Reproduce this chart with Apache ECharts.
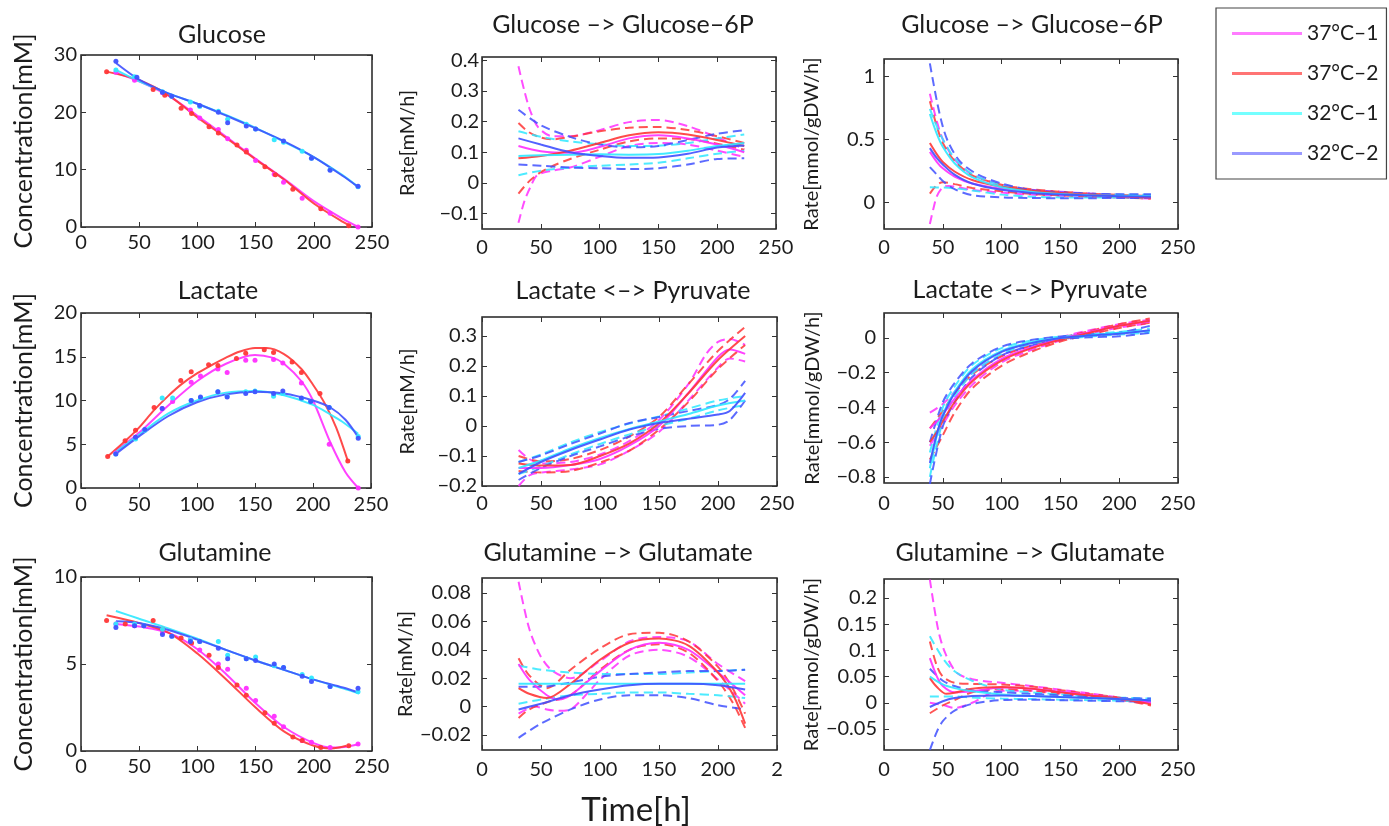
<!DOCTYPE html>
<html>
<head>
<meta charset="utf-8">
<script src="https://cdn.jsdelivr.net/npm/echarts@6/dist/echarts.min.js"></script>
<style>
  html, body { margin: 0; padding: 0; background: #fff; }
  #chart { width: 1389px; height: 826px; }
</style>
</head>
<body>
<div id="chart"></div>
<script>
// Culture conditions and their colours
const CONDITIONS = ['37°C–1', '37°C–2', '32°C–1', '32°C–2'];
const LINE_COLORS = ['#ff2eff', '#ff3636', '#2ee8ff', '#3f50ff'];
const LEGEND_COLORS = ['#ff7cff', '#ff7474', '#74ffff', '#9a9aff'];

// Shared time axis
const X_TICKS = [0, 50, 100, 150, 200, 250];
const X_TEXT = ['0', '50', '100', '150', '200', '250'];
const X_TEXT_CUT = ['0', '50', '100', '150', '200', '2'];

// Y tick values per panel
const glcTicks = [0, 10, 20, 30];
const glcRateTicks = [-0.1, 0, 0.1, 0.2, 0.3, 0.4];
const glcFluxTicks = [0, 0.5, 1];
const lacTicks = [0, 5, 10, 15, 20];
const lacRateTicks = [-0.2, -0.1, 0, 0.1, 0.2, 0.3];
const lacFluxTicks = [-0.8, -0.6, -0.4, -0.2, 0];
const glnTicks = [0, 5, 10];
const glnRateTicks = [-0.02, 0, 0.02, 0.04, 0.06, 0.08];
const glnFluxTicks = [-0.05, 0, 0.05, 0.1, 0.15, 0.2];

// ---------- Glucose concentration [mM] ----------
const glcFit37_1 = [[30,26.9],[50,25.4],[75,22.9],[100,19.4],[125,15.7],[150,11.9],[175,8.3],[200,4.5],[225,1.4],[238,0.0]];
const glcFit37_2 = [[22,27.1],[50,25.6],[75,23.0],[100,19.1],[125,15.5],[150,11.8],[175,8.2],[200,4.1],[225,0.9],[232,0.2]];
const glcFit32_1 = [[30,27.4],[50,25.4],[75,23.3],[100,21.5],[125,19.5],[150,17.3],[175,14.8],[200,12.2],[225,9.0],[238,7.0]];
const glcFit32_2 = [[30,28.6],[50,25.7],[75,23.3],[100,21.5],[125,19.4],[150,17.2],[175,14.9],[200,12.2],[225,8.9],[238,7.0]];
const glcObs37_1 = [[30,27.0],[46,25.6],[70,23.4],[94,20.4],[102,19.0],[118,17.0],[126,15.4],[142,13.4],[150,11.6],[166,9.2],[174,7.8],[190,5.0],[214,2.4],[238,0.0]];
const glcObs37_2 = [[22,27.1],[62,24.0],[72,23.0],[86,20.7],[95,19.8],[110,17.5],[118,16.4],[134,14.3],[142,13.1],[158,10.5],[167,9.1],[182,6.6],[206,3.2],[230,0.2]];
const glcObs32_1 = [[30,27.4],[46,26.2],[70,23.6],[78,22.8],[94,21.8],[102,21.0],[118,20.2],[126,18.8],[142,17.9],[150,17.1],[166,15.2],[174,14.8],[190,13.2],[198,12.0],[214,10.0],[238,7.0]];
const glcObs32_2 = [[30,28.9],[48,26.1],[70,23.5],[78,22.8],[102,21.2],[118,20.0],[126,18.2],[142,17.6],[150,17.1],[174,15.0],[198,12.0],[214,9.9],[238,7.1]];

// ---------- Glucose -> Glucose-6P [mM/h] ----------
const glcRateMid37_1 = [[31,0.12],[50,0.103],[75,0.098],[100,0.117],[125,0.145],[150,0.155],[175,0.145],[200,0.125],[223,0.10]];
const glcRateHi37_1 = [[31,0.38],[36,0.30],[41,0.235],[48,0.18],[60,0.152],[75,0.152],[100,0.172],[125,0.198],[150,0.205],[175,0.185],[200,0.148],[223,0.11]];
const glcRateLo37_1 = [[31,-0.13],[36,-0.06],[41,-0.015],[47,0.025],[60,0.04],[75,0.05],[100,0.085],[125,0.12],[150,0.13],[175,0.125],[200,0.105],[223,0.085]];
const glcRateMid37_2 = [[31,0.08],[50,0.088],[75,0.105],[100,0.13],[125,0.155],[150,0.165],[175,0.158],[200,0.14],[223,0.12]];
const glcRateHi37_2 = [[31,0.195],[40,0.165],[50,0.148],[60,0.142],[75,0.15],[100,0.168],[125,0.18],[150,0.182],[175,0.172],[200,0.152],[223,0.13]];
const glcRateLo37_2 = [[31,-0.035],[40,0.005],[50,0.035],[60,0.055],[75,0.078],[100,0.108],[125,0.135],[150,0.145],[175,0.143],[200,0.128],[223,0.108]];
const glcRateMid32_1 = [[31,0.088],[50,0.09],[75,0.092],[100,0.093],[125,0.092],[150,0.094],[175,0.105],[200,0.12],[223,0.13]];
const glcRateHi32_1 = [[31,0.168],[50,0.15],[75,0.135],[100,0.126],[125,0.12],[150,0.121],[175,0.13],[200,0.145],[223,0.158]];
const glcRateLo32_1 = [[31,0.025],[50,0.04],[75,0.05],[100,0.056],[125,0.06],[150,0.066],[175,0.08],[200,0.095],[223,0.105]];
const glcRateMid32_2 = [[31,0.145],[50,0.125],[75,0.1],[100,0.088],[125,0.082],[150,0.083],[175,0.095],[200,0.115],[223,0.122]];
const glcRateHi32_2 = [[31,0.238],[50,0.188],[75,0.15],[100,0.125],[125,0.116],[150,0.12],[175,0.14],[200,0.16],[223,0.172]];
const glcRateLo32_2 = [[31,0.06],[50,0.056],[75,0.05],[100,0.048],[125,0.045],[150,0.048],[175,0.06],[200,0.078],[223,0.08]];

// ---------- Glucose -> Glucose-6P [mmol/gDW/h] ----------
const glcFluxMid37_1 = [[39,0.40],[45,0.32],[50,0.27],[60,0.205],[75,0.15],[100,0.108],[125,0.085],[150,0.07],[175,0.06],[200,0.05],[227,0.04]];
const glcFluxHi37_1 = [[39,0.86],[45,0.64],[50,0.5],[60,0.34],[75,0.22],[100,0.14],[125,0.1],[150,0.085],[175,0.07],[200,0.06],[227,0.05]];
const glcFluxLo37_1 = [[39,-0.17],[42,-0.05],[45,0.05],[50,0.12],[55,0.13],[60,0.125],[75,0.1],[100,0.078],[125,0.062],[150,0.052],[175,0.045],[200,0.04],[227,0.03]];
const glcFluxMid37_2 = [[39,0.47],[45,0.38],[50,0.32],[60,0.245],[75,0.178],[100,0.125],[125,0.095],[150,0.075],[175,0.062],[200,0.05],[227,0.04]];
const glcFluxHi37_2 = [[39,0.8],[45,0.6],[50,0.47],[60,0.33],[75,0.215],[100,0.14],[125,0.105],[150,0.085],[175,0.07],[200,0.06],[227,0.05]];
const glcFluxLo37_2 = [[39,0.07],[45,0.14],[50,0.16],[60,0.145],[75,0.115],[100,0.088],[125,0.068],[150,0.056],[175,0.047],[200,0.04],[227,0.03]];
const glcFluxMid32_1 = [[39,0.70],[45,0.54],[50,0.44],[60,0.31],[75,0.2],[100,0.12],[125,0.085],[150,0.066],[175,0.058],[200,0.054],[227,0.05]];
const glcFluxHi32_1 = [[39,0.74],[45,0.6],[50,0.5],[60,0.35],[75,0.225],[100,0.135],[125,0.095],[150,0.075],[175,0.065],[200,0.062],[227,0.06]];
const glcFluxLo32_1 = [[39,0.12],[50,0.118],[60,0.112],[75,0.095],[100,0.062],[125,0.046],[150,0.04],[175,0.04],[200,0.04],[227,0.04]];
const glcFluxMid32_2 = [[39,0.43],[45,0.35],[50,0.3],[60,0.22],[75,0.15],[100,0.1],[125,0.075],[150,0.062],[175,0.055],[200,0.05],[227,0.045]];
const glcFluxHi32_2 = [[39,1.1],[45,0.8],[50,0.6],[55,0.47],[65,0.32],[80,0.22],[100,0.15],[125,0.1],[150,0.08],[175,0.07],[200,0.065],[227,0.065]];
const glcFluxLo32_2 = [[39,0.28],[45,0.22],[50,0.17],[60,0.105],[75,0.058],[100,0.04],[125,0.035],[150,0.034],[175,0.034],[200,0.035],[227,0.035]];

// ---------- Lactate concentration [mM] ----------
const lacFit37_1 = [[30,4.2],[50,6.3],[75,9.4],[100,12.2],[125,14.2],[150,15.2],[165,14.9],[175,14.2],[190,12.2],[200,10.0],[215,5.2],[228,1.8],[239,0.0]];
const lacFit37_2 = [[23,3.6],[40,5.6],[50,6.9],[63,8.9],[75,10.5],[87,11.9],[100,13.1],[112,14.0],[125,14.9],[137,15.6],[150,16.0],[160,16.0],[175,15.3],[190,13.6],[200,11.8],[210,9.7],[220,6.9],[230,3.1]];
const lacFit32_1 = [[30,4.1],[50,6.1],[75,8.5],[100,10.0],[125,10.9],[150,11.1],[175,10.6],[200,9.5],[215,8.4],[225,7.6],[239,6.2]];
const lacFit32_2 = [[30,3.9],[50,5.9],[75,8.2],[100,9.8],[125,10.7],[150,11.0],[175,10.8],[200,10.0],[215,9.2],[228,7.8],[239,5.8]];
const lacObs37_1 = [[30,4.0],[47,5.8],[70,9.1],[79,9.9],[95,12.1],[103,12.8],[118,13.6],[126,13.2],[142,14.6],[150,14.6],[166,14.7],[174,14.3],[190,12.0],[214,5.0],[239,0.0]];
const lacObs37_2 = [[23,3.6],[38,5.4],[47,6.6],[63,9.2],[86,12.3],[95,13.3],[110,14.1],[118,14.0],[134,14.8],[142,15.4],[158,15.8],[166,15.5],[182,14.4],[190,13.2],[206,10.8],[230,3.1]];
const lacObs32_1 = [[30,3.9],[47,5.6],[55,6.6],[70,10.3],[79,10.3],[95,10.0],[103,10.3],[118,11.0],[126,10.5],[142,11.0],[150,11.1],[166,10.5],[174,10.8],[190,10.2],[198,9.9],[214,9.2],[239,5.9]];
const lacObs32_2 = [[30,3.9],[47,5.8],[55,6.7],[70,9.1],[95,10.0],[103,10.4],[118,11.0],[126,10.4],[142,10.8],[150,11.0],[166,10.8],[174,11.1],[190,10.3],[198,9.9],[214,9.2],[239,5.7]];

// ---------- Lactate <-> Pyruvate [mM/h] ----------
const lacRateMid37_1 = [[31,-0.14],[50,-0.14],[75,-0.13],[100,-0.11],[125,-0.065],[150,0.0],[175,0.11],[200,0.23],[210,0.255],[223,0.24]];
const lacRateHi37_1 = [[31,-0.08],[40,-0.11],[50,-0.125],[75,-0.12],[100,-0.095],[125,-0.05],[150,0.02],[175,0.14],[190,0.24],[200,0.28],[210,0.29],[223,0.27]];
const lacRateLo37_1 = [[31,-0.2],[40,-0.165],[50,-0.155],[75,-0.145],[100,-0.128],[125,-0.082],[150,-0.02],[175,0.085],[200,0.195],[210,0.225],[223,0.215]];
const lacRateMid37_2 = [[31,-0.125],[50,-0.132],[75,-0.13],[100,-0.1],[125,-0.058],[150,0.009],[175,0.109],[200,0.22],[223,0.30]];
const lacRateHi37_2 = [[31,-0.1],[50,-0.118],[75,-0.11],[100,-0.08],[125,-0.035],[150,0.03],[175,0.14],[200,0.25],[223,0.33]];
const lacRateLo37_2 = [[31,-0.15],[50,-0.155],[75,-0.15],[100,-0.122],[125,-0.082],[150,-0.012],[175,0.08],[200,0.19],[223,0.27]];
const lacRateMid32_1 = [[31,-0.14],[50,-0.115],[75,-0.075],[100,-0.04],[125,-0.01],[150,0.015],[175,0.04],[200,0.068],[223,0.085]];
const lacRateHi32_1 = [[31,-0.12],[50,-0.095],[75,-0.055],[100,-0.02],[125,0.008],[150,0.032],[175,0.058],[200,0.085],[223,0.1]];
const lacRateLo32_1 = [[31,-0.16],[50,-0.135],[75,-0.095],[100,-0.06],[125,-0.028],[150,0.0],[175,0.024],[200,0.052],[223,0.07]];
const lacRateMid32_2 = [[31,-0.16],[50,-0.12],[75,-0.08],[100,-0.045],[125,-0.012],[150,0.01],[175,0.024],[200,0.038],[210,0.05],[223,0.11]];
const lacRateHi32_2 = [[31,-0.12],[50,-0.098],[75,-0.06],[100,-0.025],[125,0.01],[150,0.03],[175,0.05],[200,0.07],[210,0.09],[223,0.15]];
const lacRateLo32_2 = [[31,-0.18],[50,-0.14],[75,-0.1],[100,-0.068],[125,-0.035],[150,-0.01],[175,0.0],[200,0.004],[210,0.02],[223,0.085]];

// ---------- Lactate <-> Pyruvate [mmol/gDW/h] ----------
const lacFluxMid37_1 = [[39,-0.52],[45,-0.48],[50,-0.44],[60,-0.35],[75,-0.24],[100,-0.12],[125,-0.055],[150,-0.005],[175,0.035],[200,0.07],[226,0.095]];
const lacFluxHi37_1 = [[39,-0.43],[50,-0.38],[60,-0.31],[75,-0.2],[100,-0.1],[125,-0.04],[150,0.005],[175,0.045],[200,0.08],[226,0.105]];
const lacFluxLo37_1 = [[39,-0.62],[50,-0.5],[60,-0.39],[75,-0.27],[100,-0.14],[125,-0.07],[150,-0.015],[175,0.025],[200,0.06],[226,0.085]];
const lacFluxMid37_2 = [[39,-0.6],[45,-0.54],[50,-0.48],[60,-0.37],[75,-0.25],[100,-0.13],[125,-0.06],[150,-0.01],[175,0.03],[200,0.07],[226,0.1]];
const lacFluxHi37_2 = [[39,-0.52],[50,-0.42],[60,-0.32],[75,-0.21],[100,-0.105],[125,-0.045],[150,0.0],[175,0.04],[200,0.08],[226,0.112]];
const lacFluxLo37_2 = [[39,-0.7],[50,-0.56],[60,-0.43],[75,-0.29],[100,-0.16],[125,-0.08],[150,-0.02],[175,0.02],[200,0.058],[226,0.088]];
const lacFluxMid32_1 = [[39,-0.75],[45,-0.56],[50,-0.44],[60,-0.31],[75,-0.18],[100,-0.075],[125,-0.025],[150,0.0],[175,0.015],[200,0.03],[226,0.04]];
const lacFluxHi32_1 = [[39,-0.66],[50,-0.4],[60,-0.28],[75,-0.155],[100,-0.058],[125,-0.015],[150,0.008],[175,0.022],[200,0.035],[226,0.055]];
const lacFluxLo32_1 = [[39,-0.8],[50,-0.48],[60,-0.34],[75,-0.205],[100,-0.092],[125,-0.035],[150,-0.006],[175,0.008],[200,0.02],[226,0.03]];
const lacFluxMid32_2 = [[39,-0.72],[45,-0.55],[50,-0.45],[60,-0.32],[75,-0.19],[100,-0.08],[125,-0.03],[150,0.0],[175,0.015],[200,0.025],[226,0.045]];
const lacFluxHi32_2 = [[39,-0.6],[50,-0.37],[60,-0.26],[75,-0.145],[100,-0.05],[125,-0.012],[150,0.008],[175,0.02],[200,0.03],[226,0.07]];
const lacFluxLo32_2 = [[39,-0.84],[50,-0.51],[60,-0.37],[75,-0.225],[100,-0.1],[125,-0.045],[150,-0.008],[175,0.004],[200,0.01],[226,0.03]];

// ---------- Glutamine concentration [mM] ----------
const glnFit37_1 = [[30,7.3],[50,7.15],[75,6.8],[100,5.85],[125,4.4],[150,2.75],[175,1.35],[200,0.45],[215,0.2],[228,0.25],[239,0.4]];
const glnFit37_2 = [[22,7.8],[50,7.35],[75,6.8],[100,5.6],[125,4.1],[150,2.5],[175,1.1],[200,0.3],[215,0.15],[228,0.3]];
const glnFit32_1 = [[30,8.05],[50,7.6],[75,7.05],[100,6.45],[125,5.8],[150,5.2],[175,4.65],[200,4.1],[225,3.6],[239,3.3]];
const glnFit32_2 = [[30,7.45],[50,7.35],[75,6.95],[100,6.4],[125,5.8],[150,5.2],[175,4.65],[200,4.1],[225,3.65],[239,3.35]];
const glnObs37_1 = [[30,7.3],[46,7.2],[70,6.8],[94,6.4],[102,5.8],[118,5.0],[126,4.7],[142,3.6],[150,2.9],[166,2.0],[174,1.4],[190,0.6],[198,0.5],[214,0.2],[238,0.4]];
const glnObs37_2 = [[22,7.5],[38,7.3],[62,7.5],[70,7.0],[86,6.5],[95,6.2],[110,5.5],[118,4.8],[134,3.8],[142,3.2],[158,2.2],[166,1.6],[182,0.8],[190,0.6],[206,0.2],[230,0.3]];
const glnObs32_1 = [[30,7.3],[46,7.3],[54,7.2],[70,7.0],[78,6.6],[94,6.4],[102,6.3],[118,6.3],[126,5.5],[142,5.3],[150,5.4],[166,4.9],[174,4.8],[190,4.4],[198,4.2],[214,3.7],[238,3.4]];
const glnObs32_2 = [[30,7.1],[46,7.2],[54,7.2],[70,6.7],[78,6.6],[94,6.3],[102,6.3],[118,5.9],[126,5.3],[142,5.3],[150,5.2],[166,5.0],[174,4.8],[190,4.3],[198,4.0],[214,3.7],[238,3.6]];

// ---------- Glutamine -> Glutamate [mM/h] ----------
const glnRateMid37_1 = [[31,0.03],[40,0.019],[55,0.008],[65,0.005],[75,0.008],[100,0.025],[125,0.04],[150,0.045],[175,0.04],[200,0.024],[223,0.008]];
const glnRateHi37_1 = [[31,0.088],[40,0.055],[50,0.035],[60,0.025],[75,0.02],[100,0.032],[125,0.046],[150,0.049],[175,0.046],[200,0.03],[223,0.018]];
const glnRateLo37_1 = [[31,-0.005],[45,0.0],[55,-0.002],[65,-0.003],[75,-0.002],[90,0.01],[100,0.019],[125,0.036],[150,0.04],[175,0.035],[200,0.019],[223,0.002]];
const glnRateMid37_2 = [[31,0.013],[40,0.009],[55,0.006],[75,0.016],[100,0.033],[125,0.045],[150,0.048],[175,0.043],[200,0.024],[213,0.008],[223,-0.012]];
const glnRateHi37_2 = [[31,0.034],[40,0.022],[55,0.013],[75,0.026],[100,0.041],[125,0.051],[150,0.052],[175,0.046],[200,0.028],[213,0.012],[223,-0.005]];
const glnRateLo37_2 = [[31,-0.008],[40,-0.002],[55,0.003],[75,0.008],[100,0.026],[125,0.04],[150,0.044],[175,0.038],[200,0.018],[213,0.002],[223,-0.015]];
const glnRateMid32_1 = [[31,0.016],[75,0.016],[125,0.016],[175,0.016],[223,0.016]];
const glnRateHi32_1 = [[31,0.029],[50,0.026],[75,0.024],[100,0.023],[125,0.023],[150,0.023],[175,0.024],[200,0.025],[223,0.026]];
const glnRateLo32_1 = [[31,0.002],[50,0.005],[75,0.008],[100,0.009],[125,0.01],[150,0.01],[175,0.009],[200,0.008],[223,0.006]];
const glnRateMid32_2 = [[31,-0.002],[50,0.002],[75,0.008],[100,0.012],[125,0.015],[150,0.016],[175,0.016],[200,0.015],[223,0.012]];
const glnRateHi32_2 = [[31,0.014],[50,0.014],[75,0.017],[100,0.021],[125,0.023],[150,0.024],[175,0.025],[200,0.025],[223,0.026]];
const glnRateLo32_2 = [[31,-0.022],[50,-0.012],[75,-0.002],[100,0.005],[125,0.008],[150,0.008],[175,0.006],[200,0.001],[223,-0.002]];

// ---------- Glutamine -> Glutamate [mmol/gDW/h] ----------
const glnFluxMid37_1 = [[39,0.085],[45,0.05],[50,0.032],[60,0.02],[75,0.022],[100,0.029],[125,0.027],[150,0.021],[175,0.015],[200,0.008],[227,0.0]];
const glnFluxHi37_1 = [[39,0.235],[46,0.14],[52,0.095],[62,0.057],[75,0.045],[100,0.038],[125,0.032],[150,0.025],[175,0.018],[200,0.01],[227,0.0]];
const glnFluxLo37_1 = [[39,0.0],[50,-0.004],[60,-0.01],[75,0.0],[90,0.018],[100,0.023],[125,0.023],[150,0.018],[175,0.012],[200,0.006],[227,-0.003]];
const glnFluxMid37_2 = [[39,0.047],[45,0.03],[53,0.017],[60,0.019],[75,0.027],[100,0.03],[125,0.027],[150,0.02],[175,0.014],[200,0.008],[227,-0.003]];
const glnFluxHi37_2 = [[39,0.117],[45,0.07],[50,0.05],[60,0.038],[75,0.036],[100,0.035],[125,0.031],[150,0.024],[175,0.017],[200,0.01],[227,0.0]];
const glnFluxLo37_2 = [[39,-0.02],[50,-0.005],[60,0.005],[75,0.02],[100,0.026],[125,0.023],[150,0.017],[175,0.011],[200,0.006],[227,-0.005]];
const glnFluxMid32_1 = [[39,0.05],[50,0.035],[60,0.028],[75,0.022],[100,0.016],[125,0.013],[150,0.011],[175,0.009],[200,0.007],[227,0.005]];
const glnFluxHi32_1 = [[39,0.127],[50,0.085],[60,0.06],[75,0.042],[100,0.025],[125,0.02],[150,0.016],[175,0.013],[200,0.01],[227,0.008]];
const glnFluxLo32_1 = [[39,0.012],[50,0.012],[60,0.012],[75,0.01],[100,0.008],[125,0.007],[150,0.006],[175,0.005],[200,0.004],[227,0.002]];
const glnFluxMid32_2 = [[39,-0.008],[50,0.003],[60,0.009],[75,0.013],[100,0.014],[125,0.013],[150,0.011],[175,0.009],[200,0.007],[227,0.005]];
const glnFluxHi32_2 = [[39,0.065],[50,0.042],[60,0.032],[75,0.024],[100,0.02],[125,0.017],[150,0.014],[175,0.011],[200,0.009],[227,0.008]];
const glnFluxLo32_2 = [[39,-0.09],[45,-0.055],[50,-0.035],[60,-0.015],[75,-0.002],[100,0.005],[125,0.006],[150,0.005],[175,0.004],[200,0.003],[227,0.002]];

// ---------- Panel layout ----------
const FONT = 'Lato, "Noto Sans", sans-serif';
const INK = '#1c1c1c';

const panels = [
  { title: 'Glucose', tx: 222, ty: 35, yName: 'Concentration[mM]', nameSize: 25, nameGap: 45,
    box: [81, 55, 291, 172], yMin: 0, yMax: 30, yTicks: glcTicks, yMargin: 4, xMargin: 6, xText: X_TEXT,
    fits: [glcFit37_1, glcFit37_2, glcFit32_1, glcFit32_2], obs: [glcObs37_1, glcObs37_2, glcObs32_1, glcObs32_2] },
  { title: 'Glucose –> Glucose–6P', tx: 623, ty: 25, yName: 'Rate[mM/h]', nameSize: 20, nameGap: 64,
    box: [482, 57, 294, 172], yMin: -0.15, yMax: 0.41, yTicks: glcRateTicks, yMargin: 3, xMargin: 9, xText: X_TEXT,
    mids: [glcRateMid37_1, glcRateMid37_2, glcRateMid32_1, glcRateMid32_2],
    his: [glcRateHi37_1, glcRateHi37_2, glcRateHi32_1, glcRateHi32_2],
    los: [glcRateLo37_1, glcRateLo37_2, glcRateLo32_1, glcRateLo32_2] },
  { title: 'Glucose –> Glucose–6P', tx: 1032, ty: 25, yName: 'Rate[mmol/gDW/h]', nameSize: 20, nameGap: 62,
    box: [884, 59, 294, 170], yMin: -0.21, yMax: 1.135, yTicks: glcFluxTicks, yMargin: 9, xMargin: 9, xText: X_TEXT,
    mids: [glcFluxMid37_1, glcFluxMid37_2, glcFluxMid32_1, glcFluxMid32_2],
    his: [glcFluxHi37_1, glcFluxHi37_2, glcFluxHi32_1, glcFluxHi32_2],
    los: [glcFluxLo37_1, glcFluxLo37_2, glcFluxLo32_1, glcFluxLo32_2] },
  { title: 'Lactate', tx: 218, ty: 291, yName: 'Concentration[mM]', nameSize: 25, nameGap: 45,
    box: [81, 313, 290, 175], yMin: 0, yMax: 20, yTicks: lacTicks, yMargin: 4, xMargin: 7, xText: X_TEXT,
    fits: [lacFit37_1, lacFit37_2, lacFit32_1, lacFit32_2], obs: [lacObs37_1, lacObs37_2, lacObs32_1, lacObs32_2] },
  { title: 'Lactate <–> Pyruvate', tx: 633, ty: 291, yName: 'Rate[mM/h]', nameSize: 20, nameGap: 64,
    box: [482, 317, 295, 169], yMin: -0.2, yMax: 0.363, yTicks: lacRateTicks, yMargin: 5, xMargin: 8, xText: X_TEXT,
    mids: [lacRateMid37_1, lacRateMid37_2, lacRateMid32_1, lacRateMid32_2],
    his: [lacRateHi37_1, lacRateHi37_2, lacRateHi32_1, lacRateHi32_2],
    los: [lacRateLo37_1, lacRateLo37_2, lacRateLo32_1, lacRateLo32_2] },
  { title: 'Lactate <–> Pyruvate', tx: 1030, ty: 290, yName: 'Rate[mmol/gDW/h]', nameSize: 20, nameGap: 61,
    box: [884, 313, 294, 170], yMin: -0.835, yMax: 0.144, yTicks: lacFluxTicks, yMargin: 8, xMargin: 11, xText: X_TEXT,
    mids: [lacFluxMid37_1, lacFluxMid37_2, lacFluxMid32_1, lacFluxMid32_2],
    his: [lacFluxHi37_1, lacFluxHi37_2, lacFluxHi32_1, lacFluxHi32_2],
    los: [lacFluxLo37_1, lacFluxLo37_2, lacFluxLo32_1, lacFluxLo32_2] },
  { title: 'Glutamine', tx: 215, ty: 553, yName: 'Concentration[mM]', nameSize: 25, nameGap: 45,
    box: [81, 577, 291, 174], yMin: 0, yMax: 10, yTicks: glnTicks, yMargin: 4, xMargin: 6, xText: X_TEXT,
    fits: [glnFit37_1, glnFit37_2, glnFit32_1, glnFit32_2], obs: [glnObs37_1, glnObs37_2, glnObs32_1, glnObs32_2] },
  { title: 'Glutamine –> Glutamate', tx: 618, ty: 553, yName: 'Rate[mM/h]', nameSize: 20, nameGap: 64,
    box: [482, 578, 295, 172], yMin: -0.0306, yMax: 0.0906, yTicks: glnRateTicks, yMargin: 11, xMargin: 10, xText: X_TEXT_CUT,
    mids: [glnRateMid37_1, glnRateMid37_2, glnRateMid32_1, glnRateMid32_2],
    his: [glnRateHi37_1, glnRateHi37_2, glnRateHi32_1, glnRateHi32_2],
    los: [glnRateLo37_1, glnRateLo37_2, glnRateLo32_1, glnRateLo32_2] },
  { title: 'Glutamine –> Glutamate', tx: 1030, ty: 553, yName: 'Rate[mmol/gDW/h]', nameSize: 20, nameGap: 62,
    box: [884, 579, 294, 171], yMin: -0.09, yMax: 0.236, yTicks: glnFluxTicks, yMargin: 7, xMargin: 10, xText: X_TEXT,
    mids: [glnFluxMid37_1, glnFluxMid37_2, glnFluxMid32_1, glnFluxMid32_2],
    his: [glnFluxHi37_1, glnFluxHi37_2, glnFluxHi32_1, glnFluxHi32_2],
    los: [glnFluxLo37_1, glnFluxLo37_2, glnFluxLo32_1, glnFluxLo32_2] }
];

function fmtTick(v) {
  const s = String(parseFloat(Math.abs(v).toFixed(4)));
  return (v < 0 ? '−' : '') + s;
}

const grids = [], xAxes = [], yAxes = [], series = [], titles = [];
const tickStyle = { color: '#333', width: 1 };
const labelStyle = { color: INK, fontSize: 20, fontFamily: FONT };
const hiddenLine = { show: false, onZero: false };

panels.forEach((p, i) => {
  const [left, top, width, height] = p.box;
  grids.push({ left, top, width, height, show: true, borderColor: '#222', borderWidth: 1.5,
               backgroundColor: 'transparent', containLabel: false });

  const xLabelOf = v => p.xText[X_TICKS.indexOf(v)];
  xAxes.push({
    gridIndex: i, type: 'value', position: 'bottom', min: 0, max: 250,
    axisLine: hiddenLine, splitLine: { show: false },
    axisTick: { show: true, inside: true, length: 5, customValues: X_TICKS, lineStyle: tickStyle },
    axisLabel: { customValues: X_TICKS, formatter: xLabelOf, margin: p.xMargin, ...labelStyle }
  });
  xAxes.push({
    gridIndex: i, type: 'value', position: 'top', min: 0, max: 250,
    axisLine: hiddenLine, splitLine: { show: false },
    axisTick: { show: true, inside: true, length: 5, customValues: X_TICKS, lineStyle: tickStyle },
    axisLabel: { show: false }
  });
  yAxes.push({
    gridIndex: i, type: 'value', position: 'left', min: p.yMin, max: p.yMax,
    name: p.yName, nameLocation: 'middle', nameRotate: 90, nameGap: p.nameGap,
    nameTextStyle: { color: INK, fontSize: p.nameSize, fontFamily: FONT },
    axisLine: hiddenLine, splitLine: { show: false },
    axisTick: { show: true, inside: true, length: 5, customValues: p.yTicks, lineStyle: tickStyle },
    axisLabel: { customValues: p.yTicks, formatter: fmtTick, margin: p.yMargin, ...labelStyle }
  });
  yAxes.push({
    gridIndex: i, type: 'value', position: 'right', min: p.yMin, max: p.yMax,
    axisLine: hiddenLine, splitLine: { show: false },
    axisTick: { show: true, inside: true, length: 5, customValues: p.yTicks, lineStyle: tickStyle },
    axisLabel: { show: false }
  });

  titles.push({ text: p.title, left: p.tx, top: p.ty, textAlign: 'center', textVerticalAlign: 'middle', padding: 0,
                textStyle: { color: INK, fontSize: 25, fontWeight: 'normal', fontFamily: FONT } });

  const axisRef = { xAxisIndex: 2 * i, yAxisIndex: 2 * i };
  const lineBase = { type: 'line', showSymbol: false, smooth: 0.3, clip: true,
                     silent: true, emphasis: { disabled: true } };

  CONDITIONS.forEach((name, c) => {
    const color = LINE_COLORS[c];
    if (p.fits) {
      series.push({ ...lineBase, ...axisRef, name, data: p.fits[c], z: 3,
                    lineStyle: { color, width: 2, opacity: 0.9 }, itemStyle: { color } });
      series.push({ type: 'scatter', ...axisRef, name, data: p.obs[c], symbolSize: 5, silent: true, z: 4,
                    itemStyle: { color, opacity: 0.95 } });
    } else {
      series.push({ ...lineBase, ...axisRef, name, data: p.his[c], z: 2,
                    lineStyle: { color, width: 2, type: [9, 5], opacity: 0.85 }, itemStyle: { color } });
      series.push({ ...lineBase, ...axisRef, name, data: p.los[c], z: 2,
                    lineStyle: { color, width: 2, type: [9, 5], opacity: 0.85 }, itemStyle: { color } });
      series.push({ ...lineBase, ...axisRef, name, data: p.mids[c], z: 3,
                    lineStyle: { color, width: 2, opacity: 0.9 }, itemStyle: { color } });
    }
  });
});

// Shared time label under the middle column
titles.push({ text: 'Time[h]', left: 636, top: 810, textAlign: 'center', textVerticalAlign: 'middle', padding: 0,
              textStyle: { color: INK, fontSize: 33, fontWeight: 'normal', fontFamily: FONT } });

const chart = echarts.init(document.getElementById('chart'), null, { renderer: 'canvas' });
chart.setOption({
  animation: false,
  backgroundColor: '#fff',
  title: titles,
  grid: grids,
  xAxis: xAxes,
  yAxis: yAxes,
  legend: {
    orient: 'vertical', left: 1216, top: 8, padding: [15, 8, 15, 16], itemGap: 19,
    itemWidth: 70, itemHeight: 3, icon: 'rect', selectedMode: false,
    borderColor: '#444', borderWidth: 1.2, backgroundColor: '#fff',
    textStyle: { color: INK, fontSize: 21, fontFamily: FONT },
    data: CONDITIONS.map((n, i) => ({ name: n, itemStyle: { color: LEGEND_COLORS[i] } }))
  },
  series
});
</script>
</body>
</html>
